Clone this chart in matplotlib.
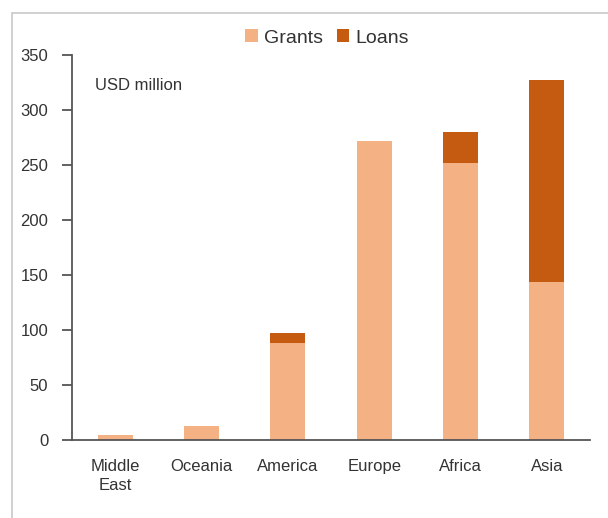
import matplotlib
matplotlib.use("Agg")
import matplotlib.pyplot as plt
from matplotlib.patches import Rectangle
import numpy as np

plt.rcParams['font.family'] = ['Liberation Sans Narrow', 'Liberation Sans', 'DejaVu Sans']

regions = ["Middle\nEast", "Oceania", "America", "Europe", "Africa", "Asia"]
grants = [5, 13, 88, 272, 252, 144]
loans = [0, 0, 9, 0, 28, 183]
yticks = [0, 50, 100, 150, 200, 250, 300, 350]

grant_color = "#F4B183"
loan_color = "#C55A11"
text_color = "#333333"

fig = plt.figure(figsize=(6.08, 5.18), dpi=100)
# outer frame
fig.patches.append(Rectangle((12 / 608, -0.1), 1.2, (1 - 13 / 518) + 0.1,
                             transform=fig.transFigure, fill=False,
                             edgecolor="#c8c8c8", linewidth=1.2))

ax = fig.add_axes([72 / 608, 1 - 440 / 518, (590 - 72) / 608, (440 - 55) / 518])
x = np.arange(len(regions))
w = 0.405
ax.bar(x, grants, width=w, color=grant_color, label="Grants", zorder=2)
ax.bar(x, loans, width=w, bottom=grants, color=loan_color, label="Loans", zorder=2)

ax.set_xlim(-0.5, 5.5)
ax.set_ylim(0, 350)
ax.set_yticks(yticks)
ax.set_xticks(x)
ax.set_xticklabels(regions, fontsize=12, color=text_color, linespacing=1.3)
ax.tick_params(axis="x", length=0, pad=14)
ax.tick_params(axis="y", length=7, width=1.3, color="#555555", labelsize=12,
               labelcolor=text_color, pad=10)
for s in ["top", "right"]:
    ax.spines[s].set_visible(False)
ax.spines["left"].set_color("#555555")
ax.spines["left"].set_linewidth(1.3)
ax.spines["bottom"].set_color("#555555")
ax.spines["bottom"].set_linewidth(1.3)

ax.text((95 - 72) / (590 - 72), (440 - 86) / 385, "USD million",
        transform=ax.transAxes, fontsize=12, color=text_color, va="center", ha="left")

leg = fig.legend(loc="center", bbox_to_anchor=(327 / 608, 1 - 38 / 518), ncol=2,
                 frameon=False, fontsize=14, handlelength=0.65, handleheight=0.65,
                 handletextpad=0.3, columnspacing=0.7, borderpad=0)
for t in leg.get_texts():
    t.set_color(text_color)

fig.savefig("out.png", dpi=100)
